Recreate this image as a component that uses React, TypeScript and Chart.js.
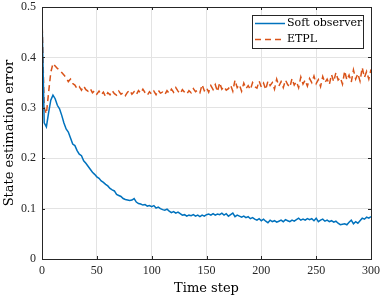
import React, { useEffect, useRef } from "react";
import { Chart, registerables } from "chart.js";

Chart.register(...registerables);

const timeSteps: number[] = Array.from({ length: 151 }, (_, i) => i * 2);

const softObserver: number[] = [
  0.48, 0.27, 0.262, 0.29, 0.315, 0.325, 0.318, 0.305, 0.298, 0.285,
  0.27, 0.258, 0.252, 0.24, 0.228, 0.225, 0.215, 0.208, 0.205, 0.195,
  0.19, 0.184, 0.178, 0.172, 0.168, 0.163, 0.16, 0.155, 0.152, 0.148,
  0.145, 0.14, 0.137, 0.135, 0.128, 0.126, 0.124, 0.12, 0.118, 0.117,
  0.116, 0.117, 0.12, 0.113, 0.11, 0.109, 0.107, 0.108, 0.105, 0.106,
  0.104, 0.106, 0.101, 0.103, 0.1, 0.098, 0.097, 0.099, 0.095, 0.092,
  0.094, 0.091, 0.093, 0.09, 0.087, 0.088, 0.085, 0.087, 0.086, 0.088,
  0.085, 0.087, 0.084, 0.087, 0.085, 0.088, 0.089, 0.087, 0.09, 0.087,
  0.089, 0.088, 0.091, 0.087, 0.09, 0.085, 0.088, 0.091, 0.084, 0.087,
  0.085, 0.083, 0.085, 0.082, 0.084, 0.08, 0.082, 0.079, 0.077, 0.08,
  0.076, 0.079, 0.075, 0.072, 0.077, 0.074, 0.076, 0.073, 0.075, 0.077,
  0.074, 0.078, 0.076, 0.074, 0.077, 0.075, 0.078, 0.081, 0.077, 0.079,
  0.077, 0.08, 0.078, 0.08, 0.076, 0.081, 0.074, 0.077, 0.079, 0.075,
  0.077, 0.074, 0.076, 0.073, 0.075, 0.071, 0.068, 0.069, 0.07, 0.068,
  0.073, 0.077, 0.07, 0.074, 0.071, 0.076, 0.081, 0.079, 0.083, 0.081,
  0.084,
];

const etpl: number[] = [
  0.48, 0.3, 0.288, 0.33, 0.37, 0.388, 0.383, 0.378, 0.375, 0.37,
  0.365, 0.36, 0.352, 0.357, 0.348, 0.345, 0.338, 0.342, 0.335, 0.343,
  0.336, 0.333, 0.338, 0.33, 0.334, 0.327, 0.333, 0.326, 0.331, 0.322,
  0.33, 0.326, 0.334, 0.328, 0.325, 0.333, 0.327, 0.33, 0.324, 0.331,
  0.335, 0.327, 0.332, 0.326, 0.334, 0.329, 0.337, 0.33, 0.325, 0.332,
  0.327, 0.333, 0.326, 0.335, 0.329, 0.331, 0.326, 0.334, 0.329, 0.337,
  0.331, 0.34, 0.333, 0.328, 0.336, 0.331, 0.327, 0.334, 0.33, 0.338,
  0.332, 0.335, 0.33, 0.346, 0.334, 0.34, 0.331, 0.344, 0.336, 0.346,
  0.332, 0.35, 0.337, 0.342, 0.335, 0.338, 0.345, 0.333, 0.355, 0.34,
  0.346, 0.333, 0.349, 0.338, 0.344, 0.336, 0.35, 0.342, 0.339, 0.353,
  0.341, 0.349, 0.336, 0.353, 0.344, 0.35, 0.337, 0.357, 0.343, 0.352,
  0.34, 0.355, 0.346, 0.341, 0.358, 0.345, 0.352, 0.34, 0.361, 0.347,
  0.355, 0.343, 0.358, 0.35, 0.363, 0.348, 0.356, 0.342, 0.362, 0.35,
  0.357, 0.346, 0.366, 0.352, 0.37, 0.355, 0.36, 0.347, 0.373, 0.355,
  0.365, 0.351, 0.375, 0.357, 0.368, 0.353, 0.38, 0.36, 0.372, 0.357,
  0.376,
];

const xTicks: number[] = [0, 50, 100, 150, 200, 250, 300];
const yTicks: number[] = [0, 0.1, 0.2, 0.3, 0.4, 0.5];
const seriesNames: string[] = ["Soft observer", "ETPL"];
const xLabel = "Time step";
const yLabel = "State estimation error";

const BLUE = "#0072BD";
const ORANGE = "#D95319";
const AXIS = "#262626";
const TICK_FONT = "Liberation Serif";
const LABEL_FONT = "DejaVu Serif";

const framePlugin = {
  id: "framePlugin",
  afterDraw(chart: any) {
    const ctx = chart.ctx;
    const a = chart.chartArea;
    const xs = chart.scales.x;
    const ys = chart.scales.y;
    ctx.save();
    ctx.strokeStyle = AXIS;
    ctx.lineWidth = 1;
    ctx.strokeRect(Math.round(a.left) + 0.5, Math.round(a.top) + 0.5, Math.round(a.right - a.left), Math.round(a.bottom - a.top));
    const tl = 3;
    ctx.beginPath();
    xTicks.forEach((v) => {
      const px = Math.round(xs.getPixelForValue(v)) + 0.5;
      ctx.moveTo(px, a.bottom);
      ctx.lineTo(px, a.bottom - tl);
      ctx.moveTo(px, a.top);
      ctx.lineTo(px, a.top + tl);
    });
    yTicks.forEach((v) => {
      const py = Math.round(ys.getPixelForValue(v)) + 0.5;
      ctx.moveTo(a.left, py);
      ctx.lineTo(a.left + tl, py);
      ctx.moveTo(a.right, py);
      ctx.lineTo(a.right - tl, py);
    });
    ctx.stroke();

    ctx.fillStyle = "#000";
    ctx.font = `13px "${LABEL_FONT}"`;
    ctx.textAlign = "center";
    ctx.textBaseline = "middle";
    ctx.fillText(xLabel, (a.left + a.right) / 2, 289);
    ctx.save();
    ctx.translate(10, (a.top + a.bottom) / 2);
    ctx.rotate(-Math.PI / 2);
    ctx.fillText(yLabel, 0, 0);
    ctx.restore();

    const lx = 252.5, ly = 15.5, lw = 111, lh = 33;
    ctx.fillStyle = "#fff";
    ctx.fillRect(lx, ly, lw, lh);
    ctx.strokeStyle = AXIS;
    ctx.lineWidth = 1;
    ctx.strokeRect(lx, ly, lw, lh);
    const rows = [
      { y: 23.5, color: BLUE, dash: [] as number[] },
      { y: 39.5, color: ORANGE, dash: [6, 4] },
    ];
    rows.forEach((r, i) => {
      ctx.strokeStyle = r.color;
      ctx.lineWidth = 1.5;
      ctx.setLineDash(r.dash);
      ctx.beginPath();
      ctx.moveTo(255, r.y);
      ctx.lineTo(285, r.y);
      ctx.stroke();
      ctx.setLineDash([]);
      ctx.fillStyle = "#000";
      ctx.font = `11px "${LABEL_FONT}"`;
      ctx.textAlign = "left";
      ctx.textBaseline = "middle";
      ctx.fillText(seriesNames[i], 287, r.y);
    });
    ctx.restore();
  },
};

const zeroPad = (s: any) => {
  s.paddingTop = 0;
  s.paddingBottom = 0;
  s.paddingLeft = 0;
  s.paddingRight = 0;
};

export default function App() {
  const ref = useRef<HTMLCanvasElement | null>(null);
  useEffect(() => {
    if (!ref.current) return;
    const chart = new Chart(ref.current, {
      type: "line",
      data: {
        datasets: [
          {
            label: seriesNames[0],
            data: timeSteps.map((t, i) => ({ x: t, y: softObserver[i] })),
            borderColor: BLUE,
            borderWidth: 1.5,
            pointRadius: 0,
            tension: 0,
          },
          {
            label: seriesNames[1],
            data: timeSteps.map((t, i) => ({ x: t, y: etpl[i] })),
            borderColor: ORANGE,
            borderWidth: 1.5,
            borderDash: [6, 4],
            pointRadius: 0,
            tension: 0,
          },
        ],
      },
      options: {
        responsive: false,
        animation: false,
        devicePixelRatio: 1,
        layout: { padding: { top: 7, right: 11, left: 0, bottom: 0 } },
        plugins: { legend: { display: false }, tooltip: { enabled: false } },
        scales: {
          x: {
            type: "linear",
            min: 0,
            max: 300,
            afterBuildTicks: (s: any) => {
              s.ticks = xTicks.map((v) => ({ value: v }));
            },
            afterFit: (s: any) => {
              s.height = 41;
              zeroPad(s);
            },
            ticks: {
              color: AXIS,
              font: { family: TICK_FONT, size: 12 },
              padding: 5,
              maxRotation: 0,
              callback: (v: any) => String(v),
            },
            grid: { color: "#e3e3e3", drawTicks: false },
            border: { display: true, color: AXIS },
          },
          y: {
            type: "linear",
            min: 0,
            max: 0.5,
            afterBuildTicks: (s: any) => {
              s.ticks = yTicks.map((v) => ({ value: v }));
            },
            afterFit: (s: any) => {
              s.width = 42;
              zeroPad(s);
            },
            ticks: {
              color: AXIS,
              font: { family: TICK_FONT, size: 12 },
              padding: 6,
              callback: (v: any) => String(Math.round(Number(v) * 10) / 10),
            },
            grid: { color: "#e3e3e3", drawTicks: false },
            border: { display: true, color: AXIS },
          },
        },
      },
      plugins: [framePlugin],
    } as any);
    return () => chart.destroy();
  }, []);
  return (
    <div style={{ position: "absolute", left: 0, top: 0, width: 382, height: 300, background: "#fff" }}>
      <canvas ref={ref} width={382} height={300} style={{ width: 382, height: 300 }} />
    </div>
  );
}
